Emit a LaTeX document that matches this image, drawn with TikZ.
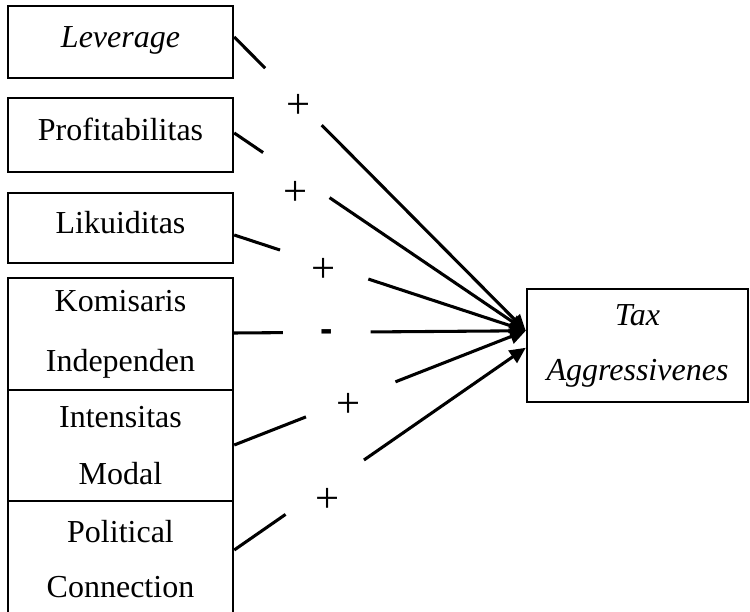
\documentclass[tikz,border=0pt]{standalone}
\usepackage{fontspec}
\setmainfont{Liberation Serif}
\newfontfamily\signfont{Liberation Sans}
\usetikzlibrary{arrows.meta,calc}
\begin{document}
\begin{tikzpicture}[x=0.375pt,y=-0.375pt,
  box/.style={draw,line width=0.9pt,inner sep=0pt,minimum width=84.4pt,font=\fontsize{12}{14}\selectfont},
  onebox/.style={box,text height=9pt,text depth=4.8pt},
  twobox/.style={box,align=center},
  conn/.style={line width=1.15pt},
  arr/.style={conn,-{Triangle[length=6pt,width=5.5pt]}},
  sign/.style={font=\fontsize{16}{16}\selectfont,inner sep=0pt},
  minus/.style={font=\signfont\bfseries\fontsize{14}{14}\selectfont,inner sep=0pt,text height=6.6pt,text depth=0pt}]
\useasboundingbox (0,0) rectangle (750,612);

% boxes
\node[onebox,minimum height=27pt] (lev) at (120.5,42) {\textit{Leverage}};
\node[onebox,minimum height=27.75pt] (pro) at (120.5,135) {Profitabilitas};
\node[onebox,minimum height=26.25pt] (lik) at (120.5,228) {Likuiditas};
\node[twobox,minimum height=42pt,font=\fontsize{12}{22.5}\selectfont] (kom) at (120.5,334) {Komisaris\\Independen};
\node[twobox,minimum height=41.6pt,font=\fontsize{12}{21.4}\selectfont] (int) at (120.5,445.5) {Intensitas\\Modal};
\node[twobox,minimum height=43.9pt,font=\fontsize{12}{20.6}\selectfont] (pol) at (120.5,559.5) {Political\\Connection};
\node[twobox,minimum width=82.9pt,minimum height=42.4pt,font=\fontsize{12}{20.6}\selectfont] (tax) at (637.5,345.5) {\textit{Tax}\\\textit{Aggressivenes}};

% end points
\coordinate (tipA) at ($(tax.north west)+(0,43)$);
\coordinate (tipB) at ($(tax.north west)+(0,60)$);
\coordinate (s1) at ($(lev.east)+(0,-5)$);
\coordinate (s2) at ($(pro.east)+(0,-2)$);
\coordinate (s3) at ($(lik.east)+(0,7)$);
\coordinate (s4) at ($(kom.east)+(0,-1)$);
\coordinate (s5) at ($(int.east)+(0,-0.5)$);
\coordinate (s6) at ($(pol.east)+(0,-9.5)$);

% connectors (broken around the signs)
\draw[conn] (s1) -- ($(s1)!0.106!(tipA)$);
\draw[arr] ($(s1)!0.30!(tipA)$) -- (tipA);
\draw[conn] (s2) -- ($(s2)!0.099!(tipA)$);
\draw[arr] ($(s2)!0.327!(tipA)$) -- (tipA);
\draw[conn] (s3) -- ($(s3)!0.157!(tipA)$);
\draw[arr] ($(s3)!0.46!(tipA)$) -- (tipA);
\draw[conn] (s4) -- ($(s4)!0.167!(tipA)$);
\draw[arr] ($(s4)!0.468!(tipA)$) -- (tipA);
\draw[conn] (s5) -- ($(s5)!0.246!(tipA)$);
\draw[arr] ($(s5)!0.553!(tipA)$) -- (tipA);
\draw[conn] (s6) -- ($(s6)!0.176!(tipB)$);
\draw[arr] ($(s6)!0.445!(tipB)$) -- (tipB);

% signs
\node[sign] (p1) at (299,106) {+};
\node[sign] (p2) at (296,193) {+};
\node[sign] (p3) at (324,270) {+};
\node[minus] (m4) at (327,333) {-};
\node[sign] (p5) at (349,405) {+};
\node[sign] (p6) at (328,500) {+};
\end{tikzpicture}
\end{document}
